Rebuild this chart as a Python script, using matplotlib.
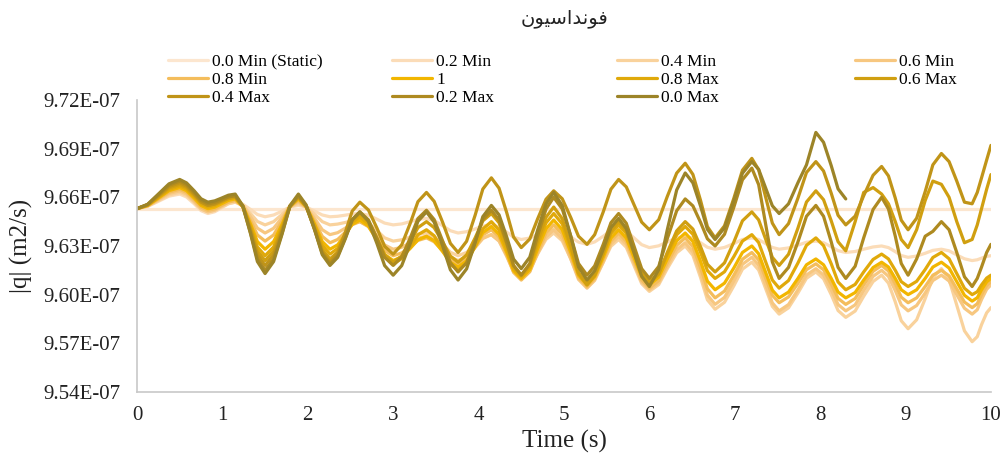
import matplotlib
matplotlib.use('Agg')

import matplotlib.pyplot as plt
from matplotlib.ticker import FuncFormatter

plt.rcParams['font.family'] = ['Liberation Serif', 'DejaVu Sans']

# time axis (s)
time_s = [0.00, 0.125, 0.25, 0.375, 0.50, 0.58, 0.67, 0.75, 0.83, 0.91, 0.99, 1.07, 1.15,
          1.24, 1.33, 1.41, 1.50, 1.60, 1.70, 1.79, 1.89, 1.98, 2.08, 2.17, 2.26, 2.35, 2.44,
          2.52, 2.61, 2.71, 2.81, 2.90, 3.00, 3.10, 3.20, 3.29, 3.39, 3.48, 3.58, 3.67, 3.76,
          3.86, 3.96, 4.05, 4.15, 4.24, 4.33, 4.41, 4.50, 4.60, 4.69, 4.79, 4.88, 4.98, 5.08,
          5.17, 5.27, 5.36, 5.46, 5.55, 5.64, 5.73, 5.82, 5.91, 6.00, 6.11, 6.21, 6.32, 6.42,
          6.51, 6.60, 6.68, 6.77, 6.88, 6.99, 7.09, 7.20, 7.28, 7.36, 7.44, 7.52, 7.63, 7.74,
          7.84, 7.95, 8.04, 8.13, 8.21, 8.30, 8.41, 8.51, 8.62, 8.72, 8.80, 8.88, 8.95, 9.03,
          9.13, 9.23, 9.32, 9.42, 9.51, 9.60, 9.69, 9.78, 9.84, 9.89, 9.95, 10.00]

# |q| values in units of 1E-07 m2/s
q_static = [9.653] * len(time_s)

q_min02 = [9.653, 9.6544, 9.6575, 9.6607, 9.662, 9.6602, 9.656, 9.6518, 9.650, 9.6511, 9.6535, 9.656, 9.657,
           9.6557, 9.6525, 9.6494, 9.648, 9.6491, 9.6515, 9.654, 9.655, 9.654, 9.6515, 9.6491, 9.648,
           9.6483, 9.649, 9.6497, 9.650, 9.649, 9.6465, 9.6441, 9.643, 9.6436, 9.645, 9.6464, 9.647,
           9.6457, 9.6425, 9.6394, 9.638, 9.6388, 9.6405, 9.6423, 9.643, 9.6417, 9.6385, 9.6354, 9.634,
           9.6349, 9.637, 9.6391, 9.640, 9.6387, 9.6355, 9.6324, 9.631, 9.6325, 9.636, 9.6395, 9.641,
           9.6392, 9.635, 9.6308, 9.629, 9.6301, 9.6325, 9.635, 9.636, 9.6348, 9.632, 9.6292, 9.628,
           9.6291, 9.6315, 9.634, 9.635, 9.634, 9.6315, 9.6291, 9.628, 9.6288, 9.6305, 9.6323, 9.633,
           9.632, 9.6295, 9.6271, 9.626, 9.6266, 9.628, 9.6294, 9.630, 9.629, 9.6265, 9.6241, 9.623,
           9.6238, 9.6255, 9.6273, 9.628, 9.627, 9.6245, 9.6221, 9.621, 9.6215, 9.6225, 9.6236, 9.624]

q_min04 = [9.653, 9.6545, 9.658, 9.6615, 9.663, 9.6612, 9.657, 9.6528, 9.651, 9.6519, 9.654, 9.6561, 9.657,
           9.6549, 9.650, 9.6451, 9.643, 9.645, 9.6495, 9.6541, 9.656, 9.6541, 9.6495, 9.645, 9.643,
           9.6435, 9.6445, 9.6456, 9.646, 9.6441, 9.6395, 9.635, 9.633, 9.6338, 9.6355, 9.6373, 9.638,
           9.6359, 9.631, 9.6261, 9.624, 9.626, 9.6305, 9.6351, 9.637, 9.6333, 9.6245, 9.6158, 9.612,
           9.6159, 9.625, 9.6341, 9.638, 9.6332, 9.622, 9.6108, 9.606, 9.6102, 9.620, 9.6298, 9.634,
           9.6292, 9.618, 9.6068, 9.602, 9.6062, 9.616, 9.6258, 9.630, 9.6242, 9.6105, 9.5968, 9.591,
           9.5953, 9.6055, 9.6157, 9.620, 9.6152, 9.604, 9.5928, 9.588, 9.5919, 9.601, 9.6101, 9.614,
           9.6098, 9.600, 9.5902, 9.586, 9.5899, 9.599, 9.6081, 9.612, 9.6071, 9.5955, 9.5839, 9.579,
           9.5845, 9.5975, 9.6105, 9.616, 9.6093, 9.5935, 9.5777, 9.571, 9.5741, 9.5815, 9.5888, 9.592]

q_min06 = [9.653, 9.6547, 9.6585, 9.6624, 9.664, 9.6621, 9.6575, 9.6529, 9.651, 9.6521, 9.6545, 9.657, 9.658,
           9.655, 9.648, 9.641, 9.638, 9.6409, 9.6475, 9.6542, 9.657, 9.654, 9.647, 9.640, 9.637,
           9.6382, 9.641, 9.6438, 9.645, 9.6425, 9.6365, 9.6306, 9.628, 9.6292, 9.632, 9.6348, 9.636,
           9.6338, 9.6285, 9.6233, 9.621, 9.6234, 9.629, 9.6346, 9.637, 9.633, 9.6235, 9.6141, 9.610,
           9.6145, 9.625, 9.6355, 9.640, 9.6346, 9.622, 9.6094, 9.604, 9.6088, 9.620, 9.6312, 9.636,
           9.6311, 9.6195, 9.608, 9.603, 9.6074, 9.6175, 9.6277, 9.632, 9.6263, 9.613, 9.5997, 9.594,
           9.5983, 9.6085, 9.6187, 9.623, 9.6181, 9.6065, 9.5949, 9.590, 9.5939, 9.603, 9.6121, 9.616,
           9.6121, 9.603, 9.5939, 9.590, 9.5937, 9.6025, 9.6113, 9.615, 9.6113, 9.6025, 9.5937, 9.590,
           9.5933, 9.601, 9.6087, 9.612, 9.6084, 9.600, 9.5916, 9.588, 9.5907, 9.597, 9.6033, 9.606]

q_min08 = [9.653, 9.6548, 9.659, 9.6632, 9.665, 9.6631, 9.6585, 9.654, 9.652, 9.6529, 9.655, 9.6571, 9.658,
           9.6543, 9.6455, 9.6368, 9.633, 9.6368, 9.6455, 9.6543, 9.658, 9.6541, 9.645, 9.6359, 9.632,
           9.634, 9.6385, 9.6431, 9.645, 9.6419, 9.6345, 9.6272, 9.624, 9.6257, 9.6295, 9.6334, 9.635,
           9.6326, 9.627, 9.6214, 9.619, 9.6222, 9.6295, 9.6369, 9.640, 9.6354, 9.6245, 9.6137, 9.609,
           9.6141, 9.626, 9.6379, 9.643, 9.6373, 9.624, 9.6107, 9.605, 9.610, 9.6215, 9.6331, 9.638,
           9.6329, 9.621, 9.6091, 9.604, 9.6087, 9.6195, 9.6304, 9.635, 9.6295, 9.6165, 9.6036, 9.598,
           9.6022, 9.612, 9.6218, 9.626, 9.6214, 9.6105, 9.5996, 9.595, 9.5986, 9.607, 9.6154, 9.619,
           9.6153, 9.6065, 9.5977, 9.594, 9.5976, 9.606, 9.6144, 9.618, 9.6146, 9.6065, 9.5984, 9.595,
           9.598, 9.605, 9.612, 9.615, 9.6116, 9.6035, 9.5954, 9.592, 9.5944, 9.600, 9.6056, 9.608]

q_one = [9.653, 9.655, 9.6595, 9.6641, 9.666, 9.6641, 9.6595, 9.655, 9.653, 9.6539, 9.656, 9.6581, 9.659,
         9.6544, 9.6435, 9.6327, 9.628, 9.6327, 9.6435, 9.6544, 9.659, 9.6544, 9.6435, 9.6327, 9.628,
         9.6307, 9.637, 9.6433, 9.646, 9.6423, 9.6335, 9.6248, 9.621, 9.6233, 9.6285, 9.6338, 9.636,
         9.6332, 9.6265, 9.6199, 9.617, 9.6208, 9.6295, 9.6383, 9.642, 9.6372, 9.626, 9.6148, 9.610,
         9.6154, 9.628, 9.6406, 9.646, 9.640, 9.626, 9.612, 9.606, 9.6111, 9.623, 9.6349, 9.640,
         9.6349, 9.623, 9.6111, 9.606, 9.6108, 9.622, 9.6332, 9.638, 9.6328, 9.6205, 9.6083, 9.603,
         9.6071, 9.6165, 9.626, 9.630, 9.6252, 9.614, 9.6028, 9.598, 9.6016, 9.610, 9.6184, 9.622,
         9.6184, 9.610, 9.6016, 9.598, 9.6013, 9.609, 9.6167, 9.620, 9.617, 9.610, 9.603, 9.600,
         9.603, 9.610, 9.617, 9.620, 9.6164, 9.608, 9.5996, 9.596, 9.5981, 9.603, 9.6079, 9.610]

q_max08 = [9.653, 9.6551, 9.660, 9.6649, 9.667, 9.6651, 9.6605, 9.656, 9.654, 9.6549, 9.657, 9.6591, 9.660,
           9.6546, 9.642, 9.6294, 9.624, 9.6294, 9.642, 9.6546, 9.660, 9.6548, 9.6425, 9.6303, 9.625,
           9.6285, 9.6365, 9.6446, 9.648, 9.6437, 9.6335, 9.6234, 9.619, 9.6222, 9.6295, 9.6369, 9.640,
           9.6363, 9.6275, 9.6188, 9.615, 9.6195, 9.630, 9.6405, 9.645, 9.6399, 9.628, 9.6161, 9.611,
           9.6169, 9.6305, 9.6442, 9.650, 9.6436, 9.6285, 9.6135, 9.607, 9.6124, 9.625, 9.6376, 9.643,
           9.6378, 9.6255, 9.6133, 9.608, 9.6131, 9.625, 9.6369, 9.642, 9.6372, 9.626, 9.6148, 9.610,
           9.6141, 9.6235, 9.633, 9.637, 9.6321, 9.6205, 9.609, 9.604, 9.6087, 9.6195, 9.6304, 9.635,
           9.6302, 9.619, 9.6078, 9.603, 9.6063, 9.614, 9.6217, 9.625, 9.622, 9.615, 9.608, 9.605,
           9.6082, 9.6155, 9.6229, 9.626, 9.6221, 9.613, 9.6039, 9.600, 9.6018, 9.606, 9.6102, 9.612]

q_max06 = [9.653, 9.6553, 9.6605, 9.6658, 9.668, 9.6661, 9.6615, 9.657, 9.655, 9.6558, 9.6575, 9.6593, 9.660,
           9.6542, 9.6405, 9.6269, 9.621, 9.6269, 9.6405, 9.6542, 9.660, 9.6543, 9.641, 9.6277, 9.622,
           9.6262, 9.636, 9.6458, 9.650, 9.6455, 9.635, 9.6245, 9.620, 9.6238, 9.6325, 9.6413, 9.645,
           9.6413, 9.6325, 9.6238, 9.620, 9.6245, 9.635, 9.6455, 9.650, 9.6443, 9.631, 9.6177, 9.612,
           9.6183, 9.633, 9.6477, 9.654, 9.6468, 9.630, 9.6132, 9.606, 9.6119, 9.6255, 9.6392, 9.645,
           9.6393, 9.626, 9.6127, 9.607, 9.6127, 9.626, 9.6393, 9.645, 9.6404, 9.6295, 9.6187, 9.614,
           9.6196, 9.6325, 9.6455, 9.651, 9.6461, 9.6345, 9.623, 9.618, 9.6249, 9.641, 9.6571, 9.664,
           9.6585, 9.6455, 9.6326, 9.627, 9.645, 9.663, 9.666, 9.662, 9.656, 9.645, 9.634, 9.629,
           9.640, 9.658, 9.670, 9.668, 9.660, 9.645, 9.632, 9.634, 9.643, 9.653, 9.665, 9.674]

q_max04 = [9.653, 9.6554, 9.661, 9.6666, 9.669, 9.6669, 9.662, 9.6571, 9.655, 9.6559, 9.658, 9.6601, 9.661,
           9.6546, 9.6395, 9.6245, 9.618, 9.6245, 9.6395, 9.6546, 9.661, 9.6549, 9.6405, 9.6262, 9.620,
           9.6256, 9.6385, 9.6515, 9.657, 9.6522, 9.641, 9.6298, 9.625, 9.6307, 9.644, 9.6573, 9.663,
           9.6575, 9.6445, 9.6316, 9.626, 9.6329, 9.649, 9.6651, 9.672, 9.6656, 9.6505, 9.6355, 9.629,
           9.6343, 9.6465, 9.6588, 9.664, 9.6591, 9.6475, 9.636, 9.631, 9.637, 9.651, 9.665, 9.671,
           9.6664, 9.6555, 9.6447, 9.640, 9.6462, 9.6605, 9.6749, 9.681, 9.6741, 9.658, 9.6419, 9.635,
           9.6424, 9.6595, 9.6767, 9.684, 9.677, 9.6605, 9.6441, 9.637, 9.6438, 9.6595, 9.6753, 9.682,
           9.6762, 9.6625, 9.6489, 9.643, 9.6484, 9.661, 9.6736, 9.679, 9.6732, 9.6595, 9.6459, 9.640,
           9.6471, 9.6635, 9.680, 9.687, 9.682, 9.670, 9.657, 9.656, 9.663, 9.672, 9.683, 9.692]

q_max02 = [9.653, 9.6556, 9.6615, 9.6675, 9.670, 9.6679, 9.663, 9.6581, 9.656, 9.6568, 9.6585, 9.6603, 9.661,
           9.6541, 9.638, 9.6219, 9.615, 9.6219, 9.638, 9.6541, 9.661, 9.6547, 9.640, 9.6253, 9.619,
           9.6238, 9.635, 9.6462, 9.651, 9.6461, 9.6345, 9.623, 9.618, 9.6231, 9.635, 9.6469, 9.652,
           9.6463, 9.633, 9.6197, 9.614, 9.6197, 9.633, 9.6463, 9.652, 9.646, 9.632, 9.618, 9.612,
           9.6192, 9.636, 9.6528, 9.660, 9.6528, 9.636, 9.6192, 9.612, 9.6177, 9.631, 9.6443, 9.650,
           9.644, 9.630, 9.616, 9.610, 9.6174, 9.6345, 9.6517, 9.659, 9.6547, 9.6445, 9.6344, 9.630,
           9.6372, 9.654, 9.6708, 9.678, 9.6678, 9.644, 9.6202, 9.610, 9.6168, 9.6325, 9.6483, 9.655,
           9.6483, 9.6325, 9.6168, 9.610, 9.6175, 9.635, 9.6525, 9.660, 9.6528, 9.636, 9.6192, 9.612,
           9.622, 9.636, 9.639, 9.645, 9.640, 9.626, 9.611, 9.605, 9.610, 9.617, 9.626, 9.631]

# 0.0 Max stops at about 8.3 s
q_max00 = [9.653, 9.6557, 9.662, 9.6683, 9.671, 9.6689, 9.664, 9.6591, 9.657, 9.6578, 9.6595, 9.6613, 9.662,
           9.6547, 9.6375, 9.6204, 9.613, 9.6204, 9.6375, 9.6547, 9.662, 9.6554, 9.640, 9.6246, 9.618,
           9.623, 9.6345, 9.6461, 9.651, 9.6452, 9.6315, 9.6179, 9.612, 9.6179, 9.6315, 9.6452, 9.651,
           9.6447, 9.630, 9.6153, 9.609, 9.6159, 9.632, 9.6481, 9.655, 9.6492, 9.6355, 9.6219, 9.616,
           9.6231, 9.6395, 9.656, 9.663, 9.6549, 9.636, 9.6171, 9.609, 9.6147, 9.628, 9.6413, 9.647,
           9.6407, 9.626, 9.6113, 9.605, 9.6155, 9.640, 9.6645, 9.675, 9.6689, 9.6545, 9.6402, 9.634,
           9.6412, 9.658, 9.6748, 9.682, 9.6772, 9.666, 9.6548, 9.650, 9.656, 9.669, 9.680, 9.700,
           9.6939, 9.6795, 9.6652, 9.659]

labels = ['0.0 Min (Static)', '0.2 Min', '0.4 Min', '0.6 Min', '0.8 Min', '1',
          '0.8 Max', '0.6 Max', '0.4 Max', '0.2 Max', '0.0 Max']
series = [q_static, q_min02, q_min04, q_min06, q_min08, q_one,
          q_max08, q_max06, q_max04, q_max02, q_max00]
colors = ['#fce6cf', '#fbdcb8', '#f9d29c', '#f7c780', '#f4bd5c', '#f2b600',
          '#e0a90a', '#d09f10', '#c09418', '#ae8a20', '#9c8428']

fig = plt.figure(figsize=(10.05, 4.55), dpi=100)
ax = fig.add_axes([0.1363, 0.1385, 0.8497, 0.6418])

lines = []
for lab, vals, col in zip(labels, series, colors):
    t = time_s[:len(vals)]
    ln, = ax.plot(t, [v * 1e-7 for v in vals], color=col, lw=2.3, label=lab,
                  solid_capstyle='round', solid_joinstyle='round')
    lines.append(ln)

ax.set_xlim(0, 10)
ax.set_ylim(9.54e-7, 9.72e-7)
ax.set_xticks(range(0, 11))
ax.set_yticks([9.54e-7, 9.57e-7, 9.60e-7, 9.63e-7, 9.66e-7, 9.69e-7, 9.72e-7])
ax.yaxis.set_major_formatter(FuncFormatter(lambda v, p: '{:.2E}'.format(v)))
ax.tick_params(length=0, labelsize=15, colors='#222222')
ax.tick_params(axis='y', pad=12)
ax.tick_params(axis='x', pad=10)

for s in ['top', 'right']:
    ax.spines[s].set_visible(False)
for s in ['left', 'bottom']:
    ax.spines[s].set_color('#c8c8c8')
    ax.spines[s].set_linewidth(1.2)

ax.set_xlabel('Time (s)', fontsize=18, color='#222222')
ax.xaxis.set_label_coords(0.5, -0.13)
ax.set_ylabel('|q| (m2/s)', fontsize=18, color='#222222')
ax.yaxis.set_label_coords(-0.122, 0.5)

# title: فونداسیون written with presentation forms in visual order
fig.text(564 / 1005, 1 - 19 / 455,
         '\uFEE5\uFEEE\uFEF4\uFEB3\uFE8D\uFEAA\uFEE7\uFEEE\uFED3',
         ha='center', va='center', fontsize=14, family=['DejaVu Sans'], color='#222222')

# legend: 4 columns, entries in rows
cols = [[0, 4, 8], [1, 5, 9], [2, 6, 10], [3, 7]]
col_x = [168, 392, 617, 855]
for cx, idx in zip(col_x, cols):
    fig.legend([lines[i] for i in idx], [labels[i] for i in idx],
               loc='upper left', bbox_to_anchor=(cx / 1005, 1 - 54 / 455),
               frameon=False, fontsize=12.5, handlelength=2.3, handletextpad=0.25,
               labelspacing=0.1, borderpad=0, borderaxespad=0)

plt.savefig('out.png', dpi=100)
